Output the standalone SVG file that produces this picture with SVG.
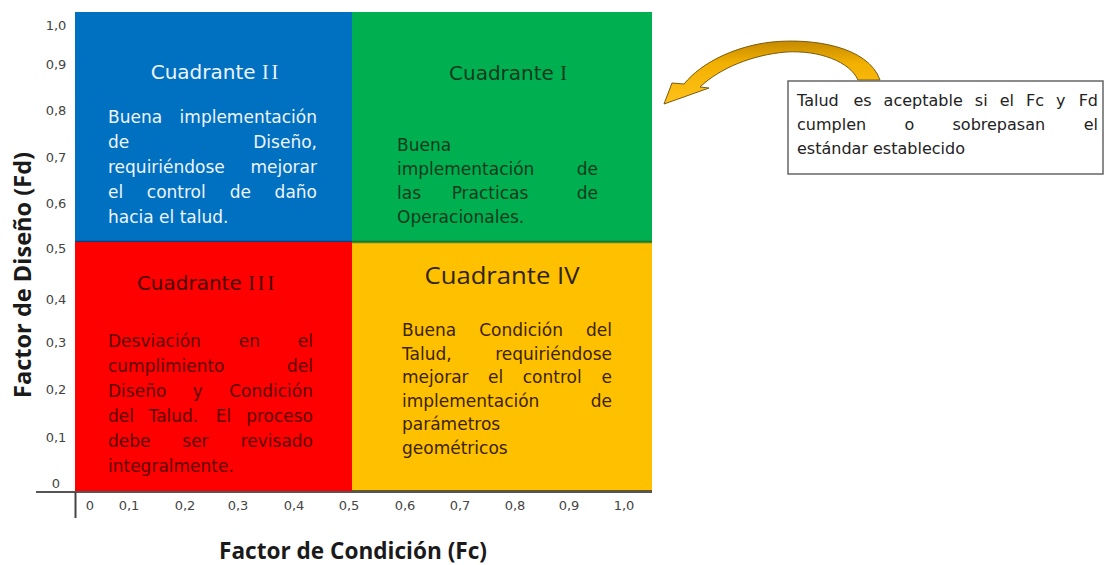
<svg xmlns="http://www.w3.org/2000/svg" width="1107" height="565" viewBox="0 0 1107 565">
<style>
.tick{font-family:"DejaVu Sans",Verdana,sans-serif;font-size:13px;fill:#444;text-anchor:middle}
.body{font-family:"DejaVu Sans",Verdana,sans-serif;font-size:17px}
.ttl{font-family:"DejaVu Sans",Verdana,sans-serif;font-size:20px;text-anchor:middle}
.num{font-family:"Liberation Serif","Times New Roman",serif}
.axt{font-family:"Open Sans","Liberation Sans",sans-serif;font-weight:700;font-size:23px;fill:#1a1a1a;text-anchor:middle}
.note{font-family:"DejaVu Sans",Verdana,sans-serif;font-size:16px;fill:#222}
.e{text-anchor:end}
.m{text-anchor:middle}
</style>
<defs>
<linearGradient id="gold" x1="0" y1="0" x2="0" y2="1">
<stop offset="0" stop-color="#c58a00"/>
<stop offset="0.35" stop-color="#f2b000"/>
<stop offset="1" stop-color="#ffc21a"/>
</linearGradient>
</defs>
<rect width="1107" height="565" fill="#ffffff"/>

<!-- axes -->
<g id="axes">
<line x1="36" y1="492" x2="652" y2="492" stroke="#555" stroke-width="2"/>
<line x1="75.5" y1="492" x2="75.5" y2="518" stroke="#444" stroke-width="2"/>
<g class="tick">
<text x="56" y="30">1,0</text>
<text x="56" y="69">0,9</text>
<text x="56" y="115">0,8</text>
<text x="56" y="162">0,7</text>
<text x="56" y="208">0,6</text>
<text x="56" y="253">0,5</text>
<text x="56" y="304">0,4</text>
<text x="56" y="347">0,3</text>
<text x="56" y="394">0,2</text>
<text x="56" y="442">0,1</text>
<text x="56" y="488">0</text>
<text x="90" y="510">0</text>
<text x="129" y="510">0,1</text>
<text x="185" y="510">0,2</text>
<text x="238" y="510">0,3</text>
<text x="294" y="510">0,4</text>
<text x="349" y="510">0,5</text>
<text x="405" y="510">0,6</text>
<text x="460" y="510">0,7</text>
<text x="515" y="510">0,8</text>
<text x="569" y="510">0,9</text>
<text x="624" y="510">1,0</text>
</g>
<text class="axt" x="353" y="559" textLength="268" lengthAdjust="spacingAndGlyphs">Factor de Condición (Fc)</text>
<text class="axt" transform="translate(31,275) rotate(-90)" x="0" y="0" textLength="246" lengthAdjust="spacingAndGlyphs">Factor de Diseño (Fd)</text>
</g>

<!-- Cuadrante II -->
<g id="q2">
<rect x="75" y="12" width="277" height="230" fill="#0070c0"/>
<line x1="75" y1="241.5" x2="352" y2="241.5" stroke="#0a3f80" stroke-width="1.5"/>
<text class="ttl" x="216" y="79" fill="#eef4ff">Cuadrante <tspan class="num" letter-spacing="3">II</tspan></text>
<g class="body" fill="#eef4ff">
<text x="108" y="123">Buena</text><text class="e" x="317" y="123">implementación</text>
<text x="108" y="148">de</text><text class="e" x="317" y="148">Diseño,</text>
<text x="108" y="173">requiriéndose</text><text class="e" x="317" y="173">mejorar</text>
<text x="108" y="198">el</text><text x="146.8" y="198">control</text><text x="229.7" y="198">de</text><text class="e" x="317" y="198">daño</text>
<text x="108" y="223">hacia el talud.</text>
</g>
</g>

<!-- Cuadrante I -->
<g id="q1">
<rect x="352" y="12" width="300" height="230" fill="#00b050"/>
<line x1="352" y1="241.5" x2="652" y2="241.5" stroke="#1a6b2e" stroke-width="1.5"/>
<text class="ttl" x="508" y="80" fill="#0d3b1c">Cuadrante <tspan class="num">I</tspan></text>
<g class="body" fill="#0d3b1c">
<text x="397" y="151">Buena</text>
<text x="397" y="175">implementación</text><text class="e" x="598" y="175">de</text>
<text x="397" y="199">las</text><text class="m" x="490" y="199">Practicas</text><text class="e" x="598" y="199">de</text>
<text x="397" y="223">Operacionales.</text>
</g>
</g>

<!-- Cuadrante III -->
<g id="q3">
<rect x="75" y="242" width="277" height="249" fill="#ff0000"/>
<text class="ttl" x="207" y="290" fill="#4a0000">Cuadrante <tspan class="num" letter-spacing="3">III</tspan></text>
<g class="body" fill="#5c0000">
<text x="108" y="347">Desviación</text><text x="238.8" y="347">en</text><text class="e" x="313" y="347">el</text>
<text x="108" y="372">cumplimiento</text><text class="e" x="313" y="372">del</text>
<text x="108" y="397">Diseño</text><text x="192.7" y="397">y</text><text class="e" x="313" y="397">Condición</text>
<text x="108" y="422">del</text><text x="148.6" y="422">Talud.</text><text x="215.7" y="422">El</text><text class="e" x="313" y="422">proceso</text>
<text x="108" y="447">debe</text><text x="182.3" y="447">ser</text><text class="e" x="313" y="447">revisado</text>
<text x="108" y="472">integralmente.</text>
</g>
</g>

<!-- Cuadrante IV -->
<g id="q4">
<rect x="352" y="242" width="300" height="249" fill="#ffc000"/>
<line x1="352" y1="242.5" x2="652" y2="242.5" stroke="#4f8a2a" stroke-width="1.5"/>
<line x1="352" y1="490.5" x2="652" y2="490.5" stroke="#6b5a20" stroke-width="1"/>
<text x="502" y="284" font-family="'Open Sans','Liberation Sans',sans-serif" font-size="24" fill="#2e2410" text-anchor="middle" textLength="155" lengthAdjust="spacingAndGlyphs">Cuadrante IV</text>
<g class="body" fill="#3b2400">
<text x="402" y="336">Buena</text><text x="479.2" y="336">Condición</text><text class="e" x="612" y="336">del</text>
<text x="402" y="359.5">Talud,</text><text class="e" x="612" y="359.5">requiriéndose</text>
<text x="402" y="383">mejorar</text><text x="488" y="383">el</text><text x="522.7" y="383">control</text><text class="e" x="612" y="383">e</text>
<text x="402" y="406.5">implementación</text><text class="e" x="612" y="406.5">de</text>
<text x="402" y="430">parámetros</text>
<text x="402" y="453.5">geométricos</text>
</g>
</g>

<!-- connector: curved arrow -->
<g id="connectors">
<path d="M 880 80 C 868 46, 812 38, 772 42 C 736 46, 702 62, 684 84 L 672 83 L 664 104 L 709 88 L 700 87 C 720 68, 752 55, 786 52 C 820 50, 850 62, 858 80 Z" fill="url(#gold)" stroke="#7a5a10" stroke-width="1" stroke-linejoin="round"/>
</g>

<!-- annotation box -->
<g id="note">
<rect x="788" y="81" width="315" height="93" fill="#ffffff" stroke="#666" stroke-width="1.5"/>
<g class="note">
<text x="797" y="106">Talud</text><text x="853.4" y="106">es</text><text x="883.6" y="106">aceptable</text><text x="974.8" y="106">si</text><text x="999.7" y="106">el</text><text x="1026" y="106">Fc</text><text x="1056.1" y="106">y</text><text class="e" x="1098" y="106">Fd</text>
<text x="797" y="130">cumplen</text><text x="904.4" y="130">o</text><text x="952.5" y="130">sobrepasan</text><text class="e" x="1098" y="130">el</text>
<text x="797" y="154">estándar establecido</text>
</g>
</g>
</svg>
